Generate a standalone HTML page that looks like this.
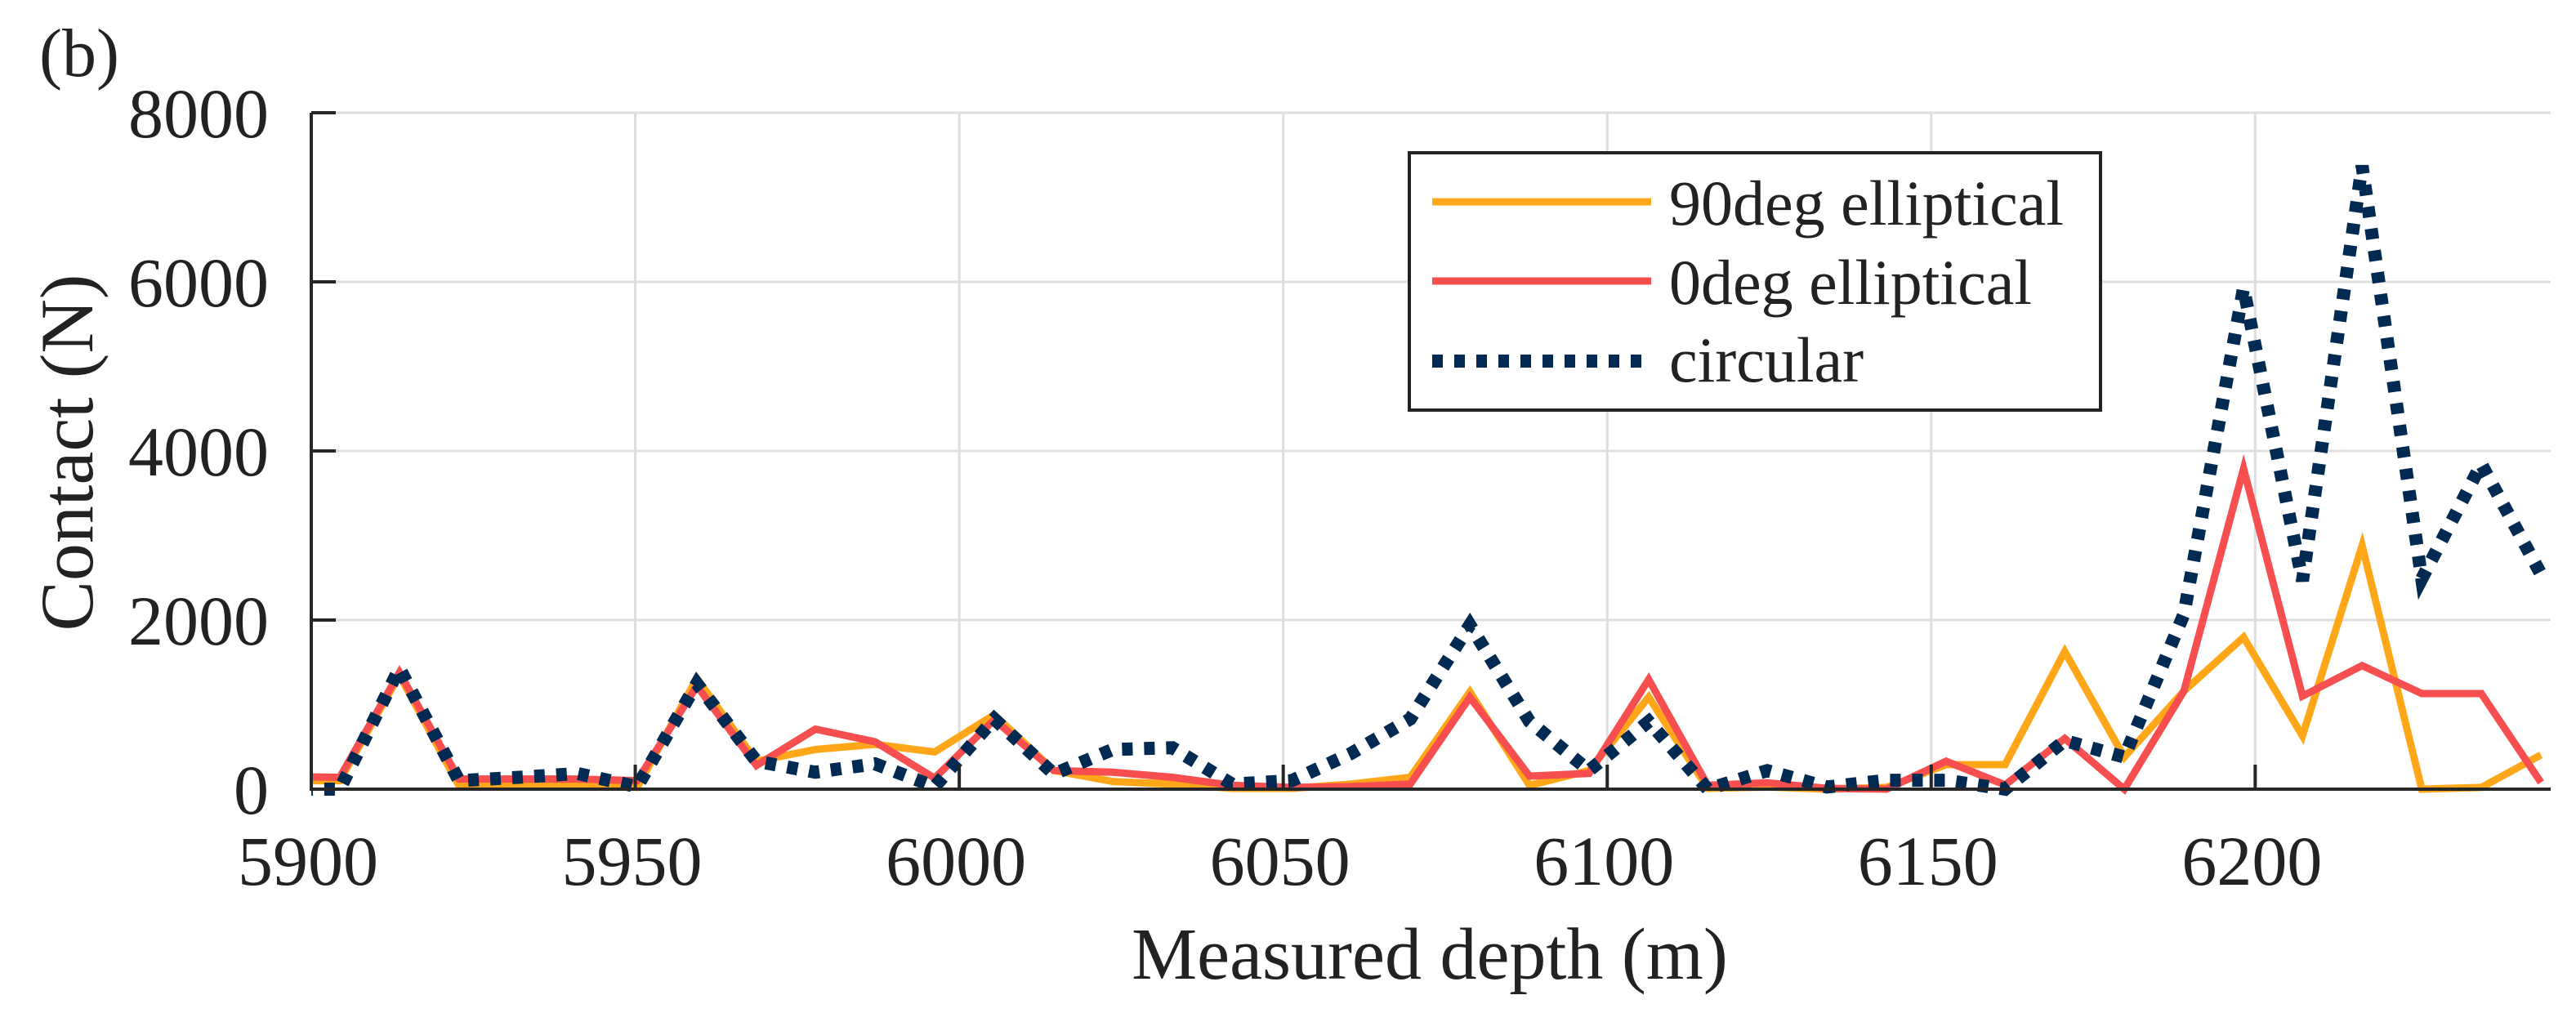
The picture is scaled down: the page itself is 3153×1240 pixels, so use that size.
<!DOCTYPE html>
<html><head><meta charset="utf-8"><style>
html,body{margin:0;padding:0;background:#fff;}
svg{display:block;font-family:"Liberation Serif","Times New Roman",serif;}
</style></head><body>
<svg id="chart" width="3153" height="1240" viewBox="0 0 3153 1240" xmlns="http://www.w3.org/2000/svg">
<defs><clipPath id="plotClip"><rect x="381" y="100" width="2741" height="900"/></clipPath></defs>
<rect x="0" y="0" width="3153" height="1240" fill="#fff"/>
<g id="grid"></g>
<g id="series" clip-path="url(#plotClip)"></g>
<g id="axes"></g>
<text x="48" y="93" font-size="84" fill="#222">(b)</text>
<text x="1750" y="1198" font-size="90" fill="#222" text-anchor="middle">Measured depth (m)</text>
<text transform="translate(113,554) rotate(-90)" font-size="92" fill="#222" text-anchor="middle">Contact (N)</text>
<g id="legend">
<rect x="1725" y="187" width="846" height="315" fill="#fff" stroke="#222" stroke-width="4"/>
<line x1="1753" y1="247" x2="2021" y2="247" stroke="#FFA719" stroke-width="9"/>
<text x="2043" y="275" font-size="78" fill="#222">90deg elliptical</text>
<line x1="1753" y1="344" x2="2021" y2="344" stroke="#F74F4F" stroke-width="9"/>
<text x="2043" y="372" font-size="78" fill="#222">0deg elliptical</text>
<line x1="1753" y1="442" x2="2012" y2="442" stroke="#002A52" stroke-width="16" stroke-dasharray="13 14"/>
<text x="2043" y="467" font-size="78" fill="#222">circular</text>
</g>
</svg>
<script>
const depths = [5895.2,5904.4,5913.6,5922.8,5932.0,5941.1,5950.3,5959.5,5968.7,5977.8,5987.0,5996.2,6005.4,6014.6,6023.7,6032.9,6042.1,6051.3,6060.4,6069.6,6078.8,6088.0,6097.2,6106.4,6115.5,6124.7,6133.9,6143.1,6152.3,6161.4,6170.6,6179.8,6189.0,6198.2,6207.3,6216.5,6225.7,6234.9,6244.1];
const ell90 = [100,100,1350,40,40,60,20,1310,330,470,530,440,880,220,90,60,10,10,60,140,1150,45,219,1088,10,25,0,20,290,290,1628,380,1160,1797,630,2880,0,20,405];
const ell0 = [150,140,1380,120,120,120,100,1220,280,710,560,130,820,220,200,140,45,20,30,60,1088,155,186,1298,45,75,10,0,330,50,600,0,1160,3791,1100,1462,1130,1130,80];
const circ = [0,0,1430,100,140,185,30,1250,330,200,300,30,830,180,470,490,60,100,420,830,1942,800,219,800,0,219,25,105,105,0,575,380,2070,5926,2464,7372,2488,3845,2543];
const xTicks = [5900,5950,6000,6050,6100,6150,6200];
const yTicks = [0,2000,4000,6000,8000];
const xTickLabels = ["5900","5950","6000","6050","6100","6150","6200"];
const yTickLabels = ["0","2000","4000","6000","8000"];

const NS = "http://www.w3.org/2000/svg";
const X0 = 381, X1 = 3122, Y0 = 966, Y1 = 138;
const xMin = 5900, xMax = 6245.6, yMin = 0, yMax = 8000;
function xs(v){ return X0 + (v - xMin) / (xMax - xMin) * (X1 - X0); }
function ys(v){ return Y0 - (v - yMin) / (yMax - yMin) * (Y0 - Y1); }
function mk(tag, attrs, parent){ const e = document.createElementNS(NS, tag); for (const k in attrs) e.setAttribute(k, attrs[k]); parent.appendChild(e); return e; }

const grid = document.getElementById('grid');
const axes = document.getElementById('axes');
const series = document.getElementById('series');

xTicks.forEach((t, i) => {
  const g = mk('line', {x1: xs(t), x2: xs(t), y1: Y1, y2: Y0, stroke: '#dedede', 'stroke-width': 3}, grid);
  
  
  const tk = mk('line', {x1: xs(t), x2: xs(t), y1: Y0, y2: Y0 - 30, stroke: '#262626', 'stroke-width': 4}, axes);
  
  
  const lb = mk('text', {x: xs(t) - 4, y: 1083, 'font-size': 86, fill: '#222', 'text-anchor': 'middle'}, axes);
  lb.textContent = xTickLabels[i];
  
  
});
yTicks.forEach((t, i) => {
  if (t > 0) {
    const g = mk('line', {x1: X0, x2: X1, y1: ys(t), y2: ys(t), stroke: '#dedede', 'stroke-width': 3}, grid);
    
    
  }
  const tk = mk('line', {x1: X0, x2: X0 + 30, y1: ys(t), y2: ys(t), stroke: '#262626', 'stroke-width': 4}, axes);
  
  
  const lb = mk('text', {x: 329, y: ys(t) + 30, 'font-size': 86, fill: '#222', 'text-anchor': 'end'}, axes);
  lb.textContent = yTickLabels[i];
  
  
});
const xa = mk('line', {x1: X0, x2: X1, y1: Y0, y2: Y0, stroke: '#262626', 'stroke-width': 4}, axes);


const ya = mk('line', {x1: X0, x2: X0, y1: Y1, y2: Y0 + 2, stroke: '#262626', 'stroke-width': 4}, axes);



function pts(vals){ return vals.map((v, i) => xs(depths[i]).toFixed(1) + ',' + ys(v).toFixed(1)).join(' '); }
const l90 = mk('polyline', {points: pts(ell90), fill: 'none', stroke: '#FFA719', 'stroke-width': 9, 'stroke-linejoin': 'miter'}, series);


const l0 = mk('polyline', {points: pts(ell0), fill: 'none', stroke: '#F74F4F', 'stroke-width': 9, 'stroke-linejoin': 'miter'}, series);


const lc = mk('polyline', {points: pts(circ), fill: 'none', stroke: '#002A52', 'stroke-width': 16, 'stroke-dasharray': '13 14'}, series);


</script>
</body></html>
